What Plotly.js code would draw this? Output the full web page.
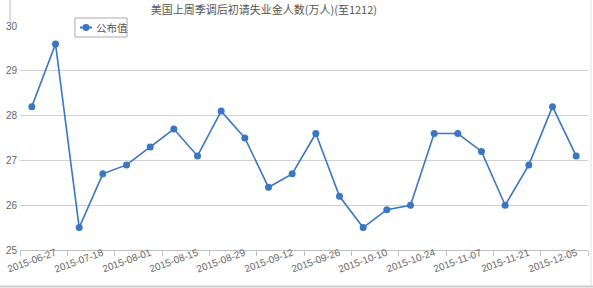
<!DOCTYPE html>
<html>
<head>
<meta charset="utf-8">
<script src="https://cdn.plot.ly/plotly-3.0.1.min.js"></script>
<style>
html,body{margin:0;padding:0;background:#fff;}
#chart{width:593px;height:288px;}
</style>
</head>
<body>
<div id="chart"></div>
<script>
const dates = ["2015-06-27","2015-07-04","2015-07-18","2015-07-25","2015-08-01","2015-08-08","2015-08-15","2015-08-22","2015-08-29","2015-09-05","2015-09-12","2015-09-19","2015-09-26","2015-10-03","2015-10-10","2015-10-17","2015-10-24","2015-10-31","2015-11-07","2015-11-14","2015-11-21","2015-11-28","2015-12-05","2015-12-12"];
const values = [28.2,29.6,25.5,26.7,26.9,27.3,27.7,27.1,28.1,27.5,26.4,26.7,27.6,26.2,25.5,25.9,26.0,27.6,27.6,27.2,26.0,26.9,28.2,27.1];
const seriesName = "公布值";
const titleText = "美国上周季调后初请失业金人数(万人)(至1212)";
const yTicks = [25,26,27,28,29,30];

const lineColor = "#3a76c2";
const fontFam = "'Noto Sans CJK SC', 'Liberation Sans', Arial, sans-serif";

const trace = {
  x: dates, y: values, name: seriesName, type: "scatter", mode: "lines+markers",
  line: {color: lineColor, width: 1.6},
  marker: {color: lineColor, size: 7},
  showlegend: false
};

const annotations = [];
dates.forEach((d, i) => {
  if (i % 2 === 0) {
    annotations.push({
      x: d, xref: "x", y: 0, yref: "paper", yshift: -10,
      text: d, showarrow: false, textangle: -20,
      xanchor: "center", yanchor: "middle",
      font: {size: 10, color: "#666", family: "'Liberation Sans', Arial, sans-serif"}
    });
  }
});
// legend label (manual legend box)
annotations.push({
  x: 0.1303, xref: "paper", y: 0.9933, yref: "paper", text: seriesName,
  showarrow: false, xanchor: "left", yanchor: "middle",
  font: {size: 10.5, color: "#555", family: fontFam}
});

const layout = {
  width: 593, height: 288,
  margin: {l: 20, r: 5, t: 26, b: 38},
  paper_bgcolor: "#fff", plot_bgcolor: "#fff",
  font: {family: fontFam, color: "#666", size: 10},
  title: {
    text: titleText, xref: "container", yref: "container",
    x: 0.445, xanchor: "center", y: 0.965, yanchor: "middle",
    font: {size: 11, color: "#555", family: fontFam}
  },
  xaxis: {
    type: "category", categoryorder: "array", categoryarray: dates,
    range: [-0.5, dates.length - 0.5],
    showgrid: false, showline: true, linecolor: "#c0c0c0", linewidth: 1,
    ticks: "outside", tickson: "boundaries", ticklen: 5, tickcolor: "#c0c0c0",
    dtick: 2, showticklabels: false, zeroline: false
  },
  yaxis: {
    range: [25, 30], tickvals: yTicks, showgrid: true, gridcolor: "#d0d0d0",
    gridwidth: 1, zeroline: false, showline: false, ticks: "",
    tickfont: {size: 10, color: "#666", family: "'Liberation Sans', Arial, sans-serif"},
    ticklabelstandoff: 2
  },
  showlegend: false,
  annotations: annotations,
  shapes: [
    {type: "line", xref: "paper", yref: "paper", x0: -0.0176, x1: -0.0176, y0: 1.116, y1: 1.02, line: {color: "#bbb", width: 1}},
    {type: "line", xref: "paper", yref: "paper", x0: 1.0053, x1: 1.0053, y0: 1.116, y1: -0.16, line: {color: "#e0e0e0", width: 1}},
    {type: "line", xref: "paper", yref: "paper", x0: -0.04, x1: 1.01, y0: -0.163, y1: -0.163, line: {color: "#ccc", width: 2}},
    // legend box
    {type: "rect", xref: "paper", yref: "paper", x0: 0.0968, x1: 0.1884, y0: 0.9509, y1: 1.0357,
     fillcolor: "#fff", line: {color: "#aaa", width: 1}, layer: "above"},
    {type: "line", xref: "paper", yref: "paper", x0: 0.1056, x1: 0.1268, y0: 0.9933, y1: 0.9933,
     line: {color: lineColor, width: 2}, layer: "above"},
    {type: "circle", xref: "paper", yref: "paper", x0: 0.1100, x1: 0.1224, y0: 0.9777, y1: 1.0089,
     fillcolor: lineColor, line: {color: lineColor, width: 0}, layer: "above"}
  ]
};

Plotly.newPlot("chart", [trace], layout, {displayModeBar: false, staticPlot: true});
</script>
</body>
</html>
